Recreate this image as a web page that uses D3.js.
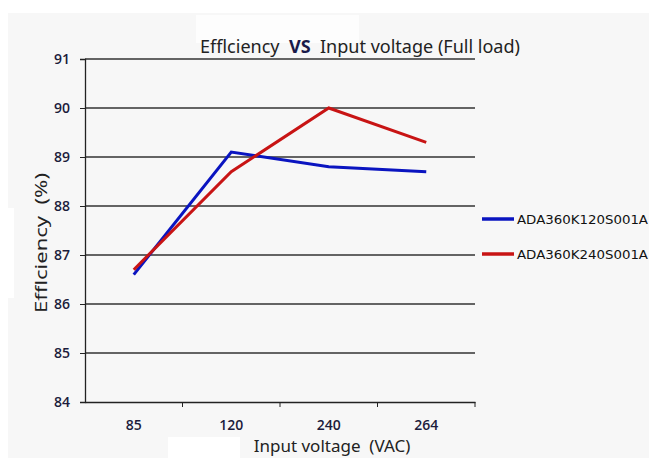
<!DOCTYPE html>
<html>
	<head>
		<meta charset="utf-8">
		<title>Efficiency vs Input voltage</title>
		<script src="https://d3js.org/d3.v7.min.js"></script>
		<style>
			body { margin: 0; background: #fff; }
			text { white-space: pre; }
		</style>
	</head>
	<body>
		<script>
// data
const voltages = ["85", "120", "240", "264"];
const seriesNames = ["ADA360K120S001A", "ADA360K240S001A"];
const eff120 = [86.6, 89.1, 88.8, 88.7];
const eff240 = [86.7, 88.7, 90.0, 89.3];
const yTicks = [84, 85, 86, 87, 88, 89, 90, 91];
const colors = ["#0a14c0", "#c81414"];

const width = 649, height = 458;
const plot = {left: 85, right: 475, top: 59, bottom: 402};

const svg = d3.select("body").append("svg")
	.attr("width", width)
	.attr("height", height);

// light grey back
svg.append("rect")
	.attr("x", 8).attr("y", 13)
	.attr("width", width - 8).attr("height", height - 13)
	.attr("fill", "#f7f7f7");
// white patches
svg.append("rect").attr("x", 196).attr("y", 15).attr("width", 163).attr("height", 28).attr("fill", "#fdfdfd");
svg.append("rect").attr("x", 168).attr("y", 437).attr("width", 72).attr("height", 21).attr("fill", "#ffffff");
svg.append("rect").attr("x", 0).attr("y", 208).attr("width", 14).attr("height", 90).attr("fill", "#ffffff");

const x = d3.scaleBand().domain(voltages).range([plot.left, plot.right]);
const y = d3.scaleLinear().domain([84, 91]).range([plot.bottom, plot.top]);

// gridlines
svg.append("g")
	.selectAll("line")
	.data(yTicks.slice(1))
	.join("line")
		.attr("x1", plot.left).attr("x2", plot.right)
		.attr("y1", d => y(d)).attr("y2", d => y(d))
		.attr("stroke", "#333")
		.attr("stroke-width", 1.3);

// y axis
const yAxis = svg.append("g")
	.attr("transform", "translate(" + plot.left + ",0)")
	.call(d3.axisLeft(y).tickValues(yTicks).tickSize(5).tickPadding(10).tickFormat(d3.format("d")));
yAxis.select(".domain").attr("stroke", "#222").attr("stroke-width", 1.3);
yAxis.selectAll(".tick line").attr("stroke", "#222");
yAxis.selectAll("text")
	.attr("font-family", "Open Sans, sans-serif")
	.attr("font-size", 14)
	.attr("font-weight", 600)
	.attr("fill", "#1c1c3c");

// x axis
const xAxis = svg.append("g")
	.attr("transform", "translate(0," + plot.bottom + ")")
	.call(d3.axisBottom(x).tickSize(0).tickPadding(18));
xAxis.select(".domain").attr("stroke", "#222").attr("stroke-width", 1.3);
xAxis.selectAll("text")
	.attr("font-family", "Open Sans, sans-serif")
	.attr("font-size", 14)
	.attr("font-weight", 600)
	.attr("fill", "#1c1c3c");
// tick marks between categories
xAxis.selectAll(".sep")
	.data(voltages)
	.join("line")
		.attr("class", "sep")
		.attr("x1", d => x(d) + x.bandwidth()).attr("x2", d => x(d) + x.bandwidth())
		.attr("y1", 0).attr("y2", 5)
		.attr("stroke", "#222");

// lines
const line = d3.line()
	.x((d, i) => x(voltages[i]) + x.bandwidth() / 2)
	.y(d => y(d));

[eff120, eff240].forEach(function(vals, k){
	svg.append("path")
		.datum(vals)
		.attr("d", line)
		.attr("fill", "none")
		.attr("stroke", colors[k])
		.attr("stroke-width", 3)
		.attr("stroke-linejoin", "miter");
});

// legend
const legend = svg.append("g")
	.selectAll("g")
	.data(seriesNames)
	.join("g")
		.attr("transform", (d, i) => "translate(482," + (219 + i * 35) + ")");
legend.append("line")
	.attr("x1", 0).attr("x2", 32)
	.attr("stroke", (d, i) => colors[i])
	.attr("stroke-width", 3.5);
legend.append("text")
	.attr("x", 35)
	.attr("dy", "0.36em")
	.attr("font-family", "DejaVu Sans, sans-serif")
	.attr("font-size", 12.5)
	.attr("textLength", 131)
	.attr("lengthAdjust", "spacingAndGlyphs")
	.attr("fill", "#111")
	.text(d => d);

// titles
const title = svg.append("text")
	.attr("x", 200).attr("y", 53)
	.attr("font-family", "Noto Sans, sans-serif")
	.attr("font-size", 18)
	.attr("textLength", 320)
	.attr("lengthAdjust", "spacingAndGlyphs")
	.attr("fill", "#222");
title.append("tspan").text("Efflciency  ");
title.append("tspan").attr("font-weight", "bold").attr("fill", "#1a1a4a").text("VS");
title.append("tspan").text("  Input voltage (Full load)");

svg.append("text")
	.attr("transform", "translate(47,243) rotate(-90)")
	.attr("text-anchor", "middle")
	.attr("font-family", "Noto Sans, sans-serif")
	.attr("font-size", 17)
	.attr("textLength", 140)
	.attr("lengthAdjust", "spacingAndGlyphs")
	.attr("fill", "#222")
	.text("Efflciency  (%)");

svg.append("text")
	.attr("x", 332).attr("y", 452)
	.attr("text-anchor", "middle")
	.attr("font-family", "Noto Sans, sans-serif")
	.attr("font-size", 17)
	.attr("fill", "#222")
	.text("Input voltage  (VAC)");
		</script>
	</body>
</html>
